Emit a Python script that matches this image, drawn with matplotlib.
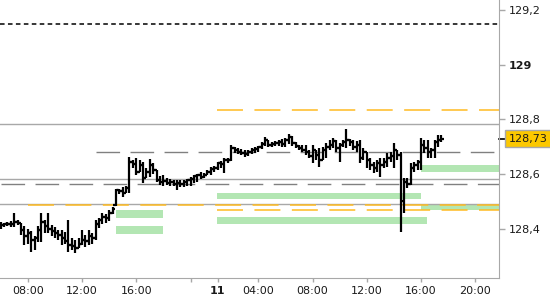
import numpy as np
import matplotlib
matplotlib.use("Agg")
import matplotlib.pyplot as plt
import matplotlib.transforms as mtransforms

# 15-minute OHLC bars, 10th 06:00 -> 22:00, 11th 01:00 -> 17:30
opens = [128.411, 128.415, 128.418, 128.418, 128.418, 128.426, 128.422, 128.396, 128.374, 128.385,
         128.360, 128.367, 128.396, 128.426, 128.411, 128.400, 128.393, 128.385, 128.378, 128.367,
         128.356, 128.341, 128.338, 128.330, 128.345, 128.360, 128.356, 128.374, 128.367, 128.418,
         128.433, 128.444, 128.440, 128.458, 128.488, 128.542, 128.539, 128.531, 128.550, 128.645,
         128.637, 128.608, 128.634, 128.586, 128.608, 128.634, 128.615, 128.579, 128.572, 128.575,
         128.568, 128.572, 128.564, 128.568, 128.564, 128.572, 128.579, 128.583, 128.594, 128.597,
         128.590, 128.597, 128.608, 128.619, 128.623, 128.641, 128.637, 128.652, 128.652, 128.696,
         128.689, 128.681, 128.678, 128.674, 128.681, 128.689, 128.692, 128.699, 128.710, 128.725,
         128.707, 128.710, 128.714, 128.718, 128.710, 128.725, 128.736, 128.714, 128.703, 128.696,
         128.689, 128.681, 128.667, 128.689, 128.670, 128.652, 128.689, 128.699, 128.707, 128.721,
         128.696, 128.707, 128.718, 128.725, 128.718, 128.699, 128.707, 128.659, 128.681, 128.652,
         128.634, 128.623, 128.641, 128.634, 128.645, 128.659, 128.667, 128.689, 128.670, 128.502,
         128.572, 128.564, 128.623, 128.634, 128.645, 128.707, 128.696, 128.681, 128.689, 128.718,
         128.725]
highs = [128.426, 128.422, 128.426, 128.429, 128.458, 128.433, 128.422, 128.411, 128.400, 128.393,
         128.374, 128.411, 128.458, 128.433, 128.458, 128.415, 128.407, 128.396, 128.396, 128.389,
         128.433, 128.367, 128.360, 128.367, 128.396, 128.378, 128.396, 128.385, 128.433, 128.440,
         128.458, 128.455, 128.469, 128.480, 128.546, 128.546, 128.553, 128.557, 128.663, 128.652,
         128.659, 128.652, 128.645, 128.623, 128.656, 128.641, 128.615, 128.594, 128.597, 128.586,
         128.583, 128.579, 128.579, 128.579, 128.579, 128.583, 128.590, 128.597, 128.601, 128.608,
         128.604, 128.615, 128.626, 128.630, 128.645, 128.648, 128.659, 128.659, 128.707, 128.699,
         128.696, 128.692, 128.689, 128.689, 128.696, 128.699, 128.703, 128.718, 128.736, 128.725,
         128.718, 128.721, 128.725, 128.729, 128.732, 128.747, 128.740, 128.718, 128.707, 128.707,
         128.707, 128.689, 128.707, 128.689, 128.696, 128.699, 128.714, 128.725, 128.732, 128.725,
         128.714, 128.725, 128.765, 128.729, 128.725, 128.721, 128.725, 128.696, 128.681, 128.659,
         128.645, 128.652, 128.659, 128.659, 128.678, 128.681, 128.714, 128.689, 128.681, 128.586,
         128.586, 128.641, 128.645, 128.652, 128.732, 128.725, 128.725, 128.696, 128.725, 128.743,
         128.743]
lows = [128.400, 128.407, 128.411, 128.407, 128.407, 128.415, 128.378, 128.341, 128.345, 128.316,
        128.323, 128.352, 128.352, 128.385, 128.385, 128.374, 128.367, 128.360, 128.341, 128.345,
        128.316, 128.323, 128.312, 128.330, 128.341, 128.334, 128.341, 128.345, 128.360, 128.404,
        128.418, 128.422, 128.429, 128.455, 128.484, 128.528, 128.517, 128.531, 128.531, 128.623,
        128.597, 128.608, 128.568, 128.586, 128.590, 128.601, 128.572, 128.561, 128.557, 128.561,
        128.557, 128.557, 128.542, 128.553, 128.553, 128.557, 128.557, 128.568, 128.572, 128.583,
        128.586, 128.597, 128.597, 128.608, 128.615, 128.623, 128.604, 128.641, 128.648, 128.678,
        128.674, 128.670, 128.663, 128.667, 128.674, 128.678, 128.681, 128.692, 128.703, 128.699,
        128.699, 128.703, 128.703, 128.699, 128.699, 128.710, 128.703, 128.696, 128.689, 128.681,
        128.670, 128.659, 128.641, 128.652, 128.626, 128.652, 128.659, 128.689, 128.696, 128.681,
        128.645, 128.699, 128.696, 128.703, 128.689, 128.681, 128.641, 128.652, 128.623, 128.615,
        128.604, 128.608, 128.590, 128.623, 128.626, 128.645, 128.623, 128.652, 128.389, 128.458,
        128.550, 128.561, 128.608, 128.615, 128.615, 128.678, 128.659, 128.659, 128.659, 128.699,
        128.718]
closes = [128.415, 128.418, 128.418, 128.418, 128.426, 128.422, 128.396, 128.374, 128.385, 128.360,
          128.367, 128.396, 128.426, 128.411, 128.400, 128.393, 128.385, 128.378, 128.367, 128.356,
          128.341, 128.338, 128.330, 128.345, 128.360, 128.356, 128.374, 128.367, 128.418, 128.433,
          128.444, 128.440, 128.458, 128.473, 128.542, 128.539, 128.531, 128.550, 128.645, 128.637,
          128.608, 128.634, 128.586, 128.608, 128.634, 128.615, 128.579, 128.572, 128.575, 128.568,
          128.572, 128.564, 128.568, 128.564, 128.572, 128.579, 128.583, 128.594, 128.597, 128.590,
          128.597, 128.608, 128.619, 128.623, 128.641, 128.637, 128.652, 128.652, 128.696, 128.689,
          128.681, 128.678, 128.674, 128.681, 128.689, 128.692, 128.699, 128.710, 128.725, 128.707,
          128.710, 128.714, 128.718, 128.710, 128.725, 128.736, 128.714, 128.703, 128.696, 128.689,
          128.681, 128.667, 128.689, 128.670, 128.652, 128.689, 128.699, 128.707, 128.721, 128.696,
          128.707, 128.718, 128.725, 128.718, 128.699, 128.707, 128.659, 128.681, 128.652, 128.634,
          128.623, 128.641, 128.634, 128.645, 128.659, 128.667, 128.689, 128.670, 128.502, 128.572,
          128.564, 128.623, 128.634, 128.645, 128.707, 128.696, 128.681, 128.689, 128.718, 128.725,
          128.730]

last_price = 128.73

# horizontal levels: (price, first bar)
gray_solid = [128.784, 128.583, 128.491]
gray_dashed = [(128.681, 28.0), (128.564, 0.0)]
orange_dashed = [(128.835, 63.7), (128.486, 8.0), (128.469, 63.7)]
black_dashed = 129.149

# green zones: (first bar, last bar, low, high)
zones = [(33.9, 47.8, 128.440, 128.469),
         (33.9, 47.8, 128.382, 128.411),
         (63.7, 123.9, 128.510, 128.531),
         (63.7, 125.7, 128.420, 128.442),
         (123.9, 150.0, 128.608, 128.634),
         (123.9, 150.0, 128.471, 128.488)]

y_ticks = [128.4, 128.6, 128.8, 129.0, 129.2]
y_labels = ["128,4", "128,6", "128,8", "129", "129,2"]
x_ticks = [8, 24, 40, 56, 64, 76, 92, 108, 124, 140]
x_labels = ["08:00", "12:00", "16:00", "", "11", "04:00", "08:00", "12:00", "16:00", "20:00"]

fig = plt.figure(figsize=(5.5, 3), dpi=100)
ax = fig.add_axes([0, 22 / 300, 499 / 550, 278 / 300])
ax.set_xlim(-0.2, 147.0)
ax.set_ylim(128.221, 129.2365)

x = np.arange(len(closes))
xmax = 147.0

for lo, hi_x, p0, p1 in [(z[0], z[1], z[2], z[3]) for z in zones]:
    ax.fill_between([lo, min(hi_x, xmax)], p0, p1, color="#b3e6b3", lw=0, zorder=1)

for p in gray_solid:
    ax.axhline(p, color="#a8a8a8", lw=1.0, zorder=2)
for p, start in gray_dashed:
    ax.hlines(p, start, xmax, color="#808080", lw=1.0, linestyles=(0, (17, 7.5)), zorder=2)
for p, start in orange_dashed:
    ax.hlines(p, start, xmax, color="#ffbb22", lw=1.1, linestyles=(0, (17, 7.5)), zorder=2)
ax.axhline(black_dashed, color="black", lw=1.1, linestyle=(0, (3.0, 2.2)), zorder=2)

# OHLC bars
ax.vlines(x, lows, highs, color="black", lw=1.6, zorder=3)
ax.hlines(opens, x - 0.75, x, color="black", lw=1.6, zorder=3)
ax.hlines(closes, x, x + 0.75, color="black", lw=1.6, zorder=3)

for s in ["left", "top"]:
    ax.spines[s].set_visible(False)
for s in ["right", "bottom"]:
    ax.spines[s].set_color("#a8a8a8")

ax.yaxis.tick_right()
ax.set_yticks(y_ticks, y_labels)
ax.set_xticks(x_ticks, x_labels)
ax.tick_params(axis="y", length=4, width=1, color="#a8a8a8", pad=3, labelsize=8, labelcolor="#1a1a1a")
ax.tick_params(axis="x", length=3, width=1, color="#a8a8a8", pad=3, labelsize=8, labelcolor="#1a1a1a")
for lbl in ax.get_yticklabels() + ax.get_xticklabels():
    if lbl.get_text() in ("129", "11"):
        lbl.set_fontweight("bold")

# current price marker
trans = mtransforms.blended_transform_factory(ax.transAxes, ax.transData)
ax.plot([1.0, 1.012], [last_price, last_price], color="black", lw=1.2, transform=trans, clip_on=False)
ax.text(1.019, last_price, "128,73", transform=trans, fontsize=8, va="center", ha="left",
        color="#1a1a1a",
        bbox=dict(boxstyle="square,pad=0.3", fc="#fcc800", ec="#a8a8a8", lw=1))

fig.savefig("out.png", dpi=100)
